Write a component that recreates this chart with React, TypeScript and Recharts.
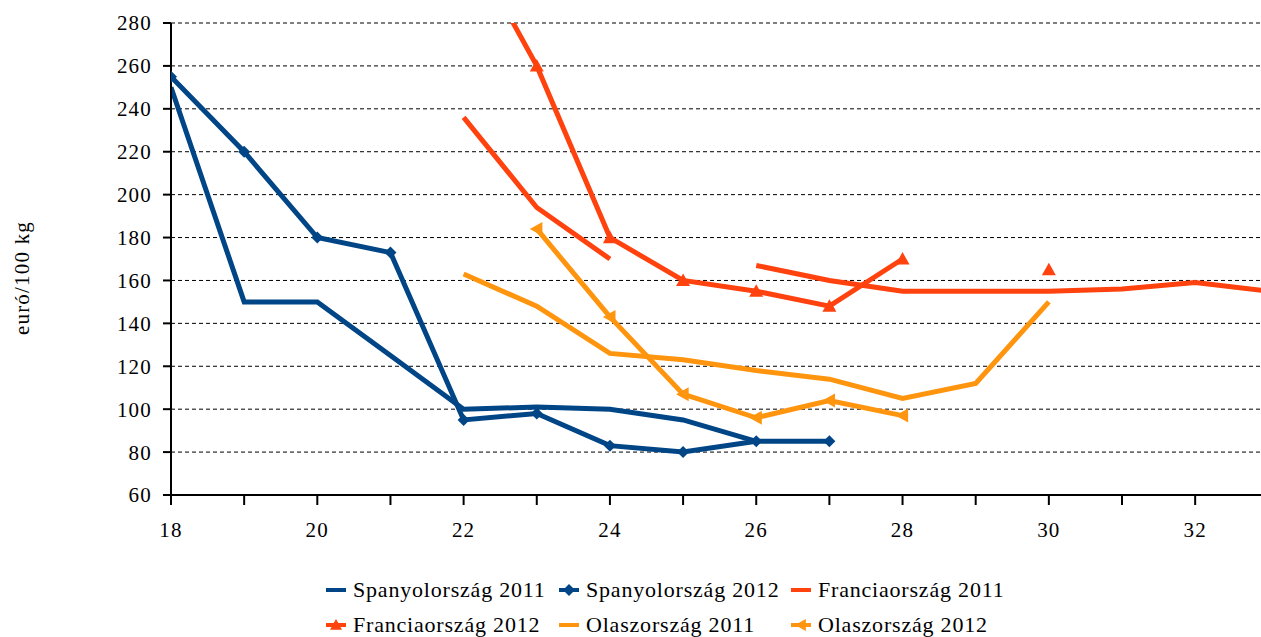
import React from 'react';
import { LineChart, Line, XAxis, YAxis, CartesianGrid } from 'recharts';

// weeks on the x axis
const weeks = [18, 19, 20, 21, 22, 23, 24, 25, 26, 27, 28, 29, 30, 31, 32, 33];
const xTicks = [18, 19, 20, 21, 22, 23, 24, 25, 26, 27, 28, 29, 30, 31, 32];
const yTicks = [60, 80, 100, 120, 140, 160, 180, 200, 220, 240, 260, 280];

const spain2011 = [250, 150, 150, 125, 100, 101, 100, 95, 85, null, null, null, null, null, null, null];
const spain2012 = [255, 220, 180, 173, 95, 98, 83, 80, 85, 85, null, null, null, null, null, null];
const france2011 = [null, null, null, null, 236, 194, 170, null, 167, 160, 155, 155, 155, 156, 159, 155];
const france2012 = [null, null, null, null, 322, 260, 180, 160, 155, 148, 170, null, 165, null, null, null];
const italy2011 = [null, null, null, null, 163, 148, 126, 123, 118, 114, 105, 112, 150, null, null, null];
const italy2012 = [null, null, null, null, null, 184, 143, 107, 96, 104, 97, null, null, null, null, null];

const BLUE = '#004586';
const RED = '#ff420e';
const ORANGE = '#ff950e';
const FONT = 'Liberation Serif';

const data = weeks.map((w, i) => ({
  week: w,
  spain2011: spain2011[i],
  spain2012: spain2012[i],
  france2011: france2011[i],
  france2012: france2012[i],
  italy2011: italy2011[i],
  italy2012: italy2012[i],
}));

// marker shapes
const diamondPath = (cx: number, cy: number, s: number) =>
  `M${cx},${cy - s}L${cx + s},${cy}L${cx},${cy + s}L${cx - s},${cy}Z`;
const triUpPath = (cx: number, cy: number, s: number) =>
  `M${cx},${cy - s}L${cx + s},${cy + s * 0.8}L${cx - s},${cy + s * 0.8}Z`;
const triLeftPath = (cx: number, cy: number, s: number) =>
  `M${cx - s},${cy}L${cx + s * 0.8},${cy - s}L${cx + s * 0.8},${cy + s}Z`;

const makeDot = (pathFn: (cx: number, cy: number, s: number) => string, color: string, size: number) =>
  Object.assign(
    (props: any) => {
      const { cx, cy, index, value } = props;
      if (value == null || cx == null || cy == null) return <g key={`e-${index}`} />;
      return <path key={`m-${index}`} d={pathFn(cx, cy, size)} fill={color} stroke="none" />;
    },
    { clipDot: false, r: 9 }
  );

const diamondDot = makeDot(diamondPath, BLUE, 6);
const triUpDot = makeDot(triUpPath, RED, 7);
const triLeftDot = makeDot(triLeftPath, ORANGE, 7);

const legendItems = [
  { name: 'Spanyolország 2011', color: BLUE, marker: null },
  { name: 'Spanyolország 2012', color: BLUE, marker: diamondPath },
  { name: 'Franciaország 2011', color: RED, marker: null },
  { name: 'Franciaország 2012', color: RED, marker: triUpPath },
  { name: 'Olaszország 2011', color: ORANGE, marker: null },
  { name: 'Olaszország 2012', color: ORANGE, marker: triLeftPath },
];

const LegendIcon = ({ color, marker }: { color: string; marker: any }) => (
  <svg width={22} height={16} style={{ verticalAlign: 'middle', marginRight: 6 }}>
    <line x1={1} y1={8} x2={21} y2={8} stroke={color} strokeWidth={4} />
    {marker && <path d={marker(11, 8, 6)} fill={color} />}
  </svg>
);

const tickStyle = { fill: '#000', fontSize: 21, fontFamily: FONT, letterSpacing: 1.2 };

const App: React.FC = () => {
  return (
    <div style={{ position: 'fixed', left: 0, top: 0, width: 1261, height: 637, fontFamily: FONT, background: '#fff', overflow: 'hidden' }}>
      <LineChart width={1261} height={560} data={data} margin={{ top: 23, right: 0, left: 0, bottom: 0 }}>
        <CartesianGrid vertical={false} stroke="#000" strokeDasharray="4 3" />
        <XAxis
          dataKey="week"
          type="number"
          domain={[18, 32.9]}
          allowDataOverflow
          ticks={xTicks}
          interval={0}
          tickFormatter={(v: number) => (v % 2 === 0 ? String(v) : '')}
          height={65}
          tickSize={10}
          tickMargin={17}
          axisLine={{ stroke: '#000', strokeWidth: 2 }}
          tickLine={{ stroke: '#000', strokeWidth: 2 }}
          tick={tickStyle}
        />
        <YAxis
          type="number"
          domain={[60, 280]}
          allowDataOverflow
          ticks={yTicks}
          interval={0}
          width={171}
          tickSize={8}
          tickMargin={11}
          axisLine={{ stroke: '#000', strokeWidth: 2 }}
          tickLine={{ stroke: '#000', strokeWidth: 2 }}
          tick={tickStyle}
          label={{
            content: () => (
              <text
                x={22}
                y={278}
                transform="rotate(-90 22 278)"
                textAnchor="middle"
                dominantBaseline="central"
                fontSize={21}
                fontFamily={FONT}
                letterSpacing={1.2}
                fill="#000"
              >
                euró/100 kg
              </text>
            ),
          }}
        />
        <Line type="linear" dataKey="spain2011" stroke={BLUE} strokeWidth={5} dot={false} isAnimationActive={false} />
        <Line type="linear" dataKey="spain2012" stroke={BLUE} strokeWidth={5} dot={diamondDot} activeDot={false} isAnimationActive={false} />
        <Line type="linear" dataKey="france2011" stroke={RED} strokeWidth={5} dot={false} isAnimationActive={false} />
        <Line type="linear" dataKey="france2012" stroke={RED} strokeWidth={5} dot={triUpDot} activeDot={false} isAnimationActive={false} />
        <Line type="linear" dataKey="italy2011" stroke={ORANGE} strokeWidth={5} dot={false} isAnimationActive={false} />
        <Line type="linear" dataKey="italy2012" stroke={ORANGE} strokeWidth={5} dot={triLeftDot} activeDot={false} isAnimationActive={false} />
      </LineChart>

      {/* legend, two rows of three */}
      <div style={{ position: 'absolute', left: 325, top: 571, width: 720, display: 'grid', gridTemplateColumns: '233px 232px 255px', fontSize: 22, letterSpacing: 0.8, lineHeight: '33px', color: '#000', whiteSpace: 'nowrap' }}>
        {legendItems.map((it) => (
          <div key={it.name}>
            <LegendIcon color={it.color} marker={it.marker} />
            <span style={{ verticalAlign: 'middle' }}>{it.name}</span>
          </div>
        ))}
      </div>
    </div>
  );
};

export default App;
